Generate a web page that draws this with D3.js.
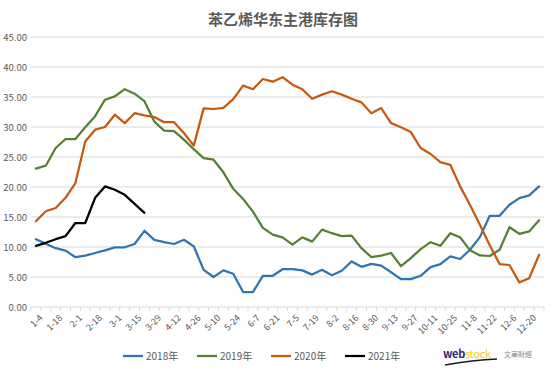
<!DOCTYPE html>
<html>
<head>
<meta charset="utf-8">
<script src="https://cdn.jsdelivr.net/npm/d3@7"></script>
<style>
html,body{margin:0;padding:0;background:#fff;}
svg{display:block;}
text{font-family:"Noto Sans CJK SC","Noto Sans",sans-serif;}
</style>
</head>
<body>
<svg id="chart" width="554" height="373"></svg>
<script>
const categories = ["1-4","1-11","1-18","1-25","2-1","2-8","2-18","2-22","3-1","3-8","3-15","3-22","3-29","4-5","4-12","4-19","4-26","5-3","5-10","5-17","5-24","5-31","6-7","6-14","6-21","6-28","7-5","7-12","7-19","7-26","8-2","8-9","8-16","8-23","8-30","9-6","9-13","9-20","9-27","10-4","10-11","10-18","10-25","11-1","11-8","11-15","11-22","11-29","12-6","12-13","12-20","12-27"];

const s2018 = [11.3,10.55,9.8,9.4,8.3,8.55,9.0,9.45,9.95,9.95,10.5,12.7,11.2,10.8,10.5,11.2,10.1,6.2,5.0,6.1,5.55,2.5,2.5,5.2,5.2,6.3,6.3,6.1,5.4,6.2,5.3,6.05,7.6,6.7,7.2,6.9,5.8,4.65,4.65,5.2,6.65,7.15,8.45,8.0,9.55,11.65,15.2,15.2,17.05,18.15,18.6,20.1];
const s2019 = [23.05,23.55,26.5,28.0,28.0,29.95,31.8,34.55,35.1,36.3,35.55,34.3,30.9,29.4,29.3,27.9,26.3,24.8,24.55,22.45,19.7,18.0,15.9,13.2,12.05,11.6,10.4,11.6,10.9,12.9,12.3,11.8,11.9,9.8,8.3,8.55,9.0,6.8,8.15,9.65,10.8,10.2,12.3,11.6,9.45,8.6,8.5,9.55,13.3,12.2,12.6,14.45];
const s2020 = [14.3,15.95,16.5,18.2,20.65,27.6,29.55,30.0,32.05,30.65,32.3,31.95,31.65,30.8,30.8,29.0,26.9,33.1,33.0,33.2,34.65,36.9,36.3,38.0,37.55,38.3,37.05,36.3,34.7,35.4,35.95,35.4,34.7,34.1,32.3,33.15,30.65,29.95,29.15,26.5,25.5,24.15,23.7,20.1,17.0,13.7,10.3,7.15,7.0,4.1,4.8,8.7];
const s2021 = [10.2,10.7,11.3,11.8,14.0,14.0,18.2,20.1,19.55,18.7,17.2,15.7];

const seriesNames = ["2018年","2019年","2020年","2021年"];
const seriesColors = ["#2e75b6","#548235","#c55a11","#000000"];
const yTicks = [0,5,10,15,20,25,30,35,40,45];
const title = "苯乙烯华东主港库存图";

const series = [s2018,s2019,s2020,s2021].map((v,k)=>({name:seriesNames[k],color:seriesColors[k],values:v}));

const svg = d3.select("#chart");
const L = 31, R = 544, T = 37, B = 307;

const x = d3.scaleBand().domain(categories).range([L,R]).paddingInner(0).paddingOuter(0);
const y = d3.scaleLinear().domain([0,45]).range([B,T]);
const cx = c => x(c) + x.bandwidth()/2;

// title
svg.append("text").attr("x",283).attr("y",25).attr("text-anchor","middle")
  .attr("font-size",15).attr("font-weight","bold").attr("fill","#595959").text(title);

// gridlines
svg.append("g").selectAll("line").data(yTicks.filter(d=>d>0)).join("line")
  .attr("x1",L).attr("x2",R).attr("y1",d=>y(d)).attr("y2",d=>y(d))
  .attr("stroke","#d9d9d9").attr("stroke-width",1);

// y axis labels
const yAxis = d3.axisLeft(y).tickValues(yTicks).tickFormat(d=>d3.format(".2f")(d)).tickSize(0).tickPadding(4);
const gy = svg.append("g").attr("transform",`translate(${L},0)`).call(yAxis);
gy.select(".domain").remove();
gy.selectAll("text").attr("font-size",9.5).attr("fill","#595959").attr("font-family","'Noto Sans CJK SC',sans-serif");

// x axis
const gx = svg.append("g").attr("transform",`translate(0,${B})`);
gx.append("line").attr("x1",L).attr("x2",R).attr("stroke","#d9d9d9").attr("stroke-width",1);
const bounds = categories.map(c=>x(c)).concat([R]);
gx.selectAll("line.tk").data(bounds).join("line").attr("class","tk")
  .attr("x1",d=>d).attr("x2",d=>d).attr("y1",0).attr("y2",4)
  .attr("stroke","#d9d9d9").attr("stroke-width",1);
gx.selectAll("text").data(categories.filter((c,i)=>i%2===0)).join("text")
  .attr("transform",d=>`translate(${cx(d)+3},7) rotate(-45)`)
  .attr("text-anchor","end").attr("dy","0.7em")
  .attr("font-size",9).attr("fill","#595959").text(d=>d);

// lines
const line = d3.line().x((d,i)=>cx(categories[i])).y(d=>y(d));
svg.append("g").selectAll("path").data(series).join("path")
  .attr("d",d=>line(d.values)).attr("fill","none")
  .attr("stroke",d=>d.color).attr("stroke-width",2.25)
  .attr("stroke-linejoin","round").attr("stroke-linecap","round");

// legend
const lg = svg.append("g").attr("transform","translate(123,356)");
const item = lg.selectAll("g").data(series).join("g").attr("transform",(d,i)=>`translate(${i*74},0)`);
item.append("line").attr("x1",0).attr("x2",20).attr("y1",0).attr("y2",0)
  .attr("stroke",d=>d.color).attr("stroke-width",2.25);
item.append("text").attr("x",23).attr("y",0).attr("dy","0.35em")
  .attr("font-size",10).attr("fill","#595959").text(d=>d.name);

// logo
const logo = svg.append("g").attr("transform","translate(443,358)");
logo.append("path").attr("d","M2,7 Q30,2 54,1").attr("fill","none").attr("stroke","#1a1a1a").attr("stroke-width",1.4);
const lt = logo.append("text").attr("x",0).attr("y",0).attr("font-size",11).attr("font-weight","bold")
  .attr("font-family","Arial,'Liberation Sans',sans-serif").attr("letter-spacing","-0.3");
lt.append("tspan").attr("fill","#1f2a7a").text("web");
lt.append("tspan").attr("fill","#f0cc12").attr("font-weight","normal").text("stock");
logo.append("text").attr("x",61).attr("y",-1).attr("font-size",7).attr("fill","#8c8c8c").text("文華財經");
</script>
</body>
</html>
